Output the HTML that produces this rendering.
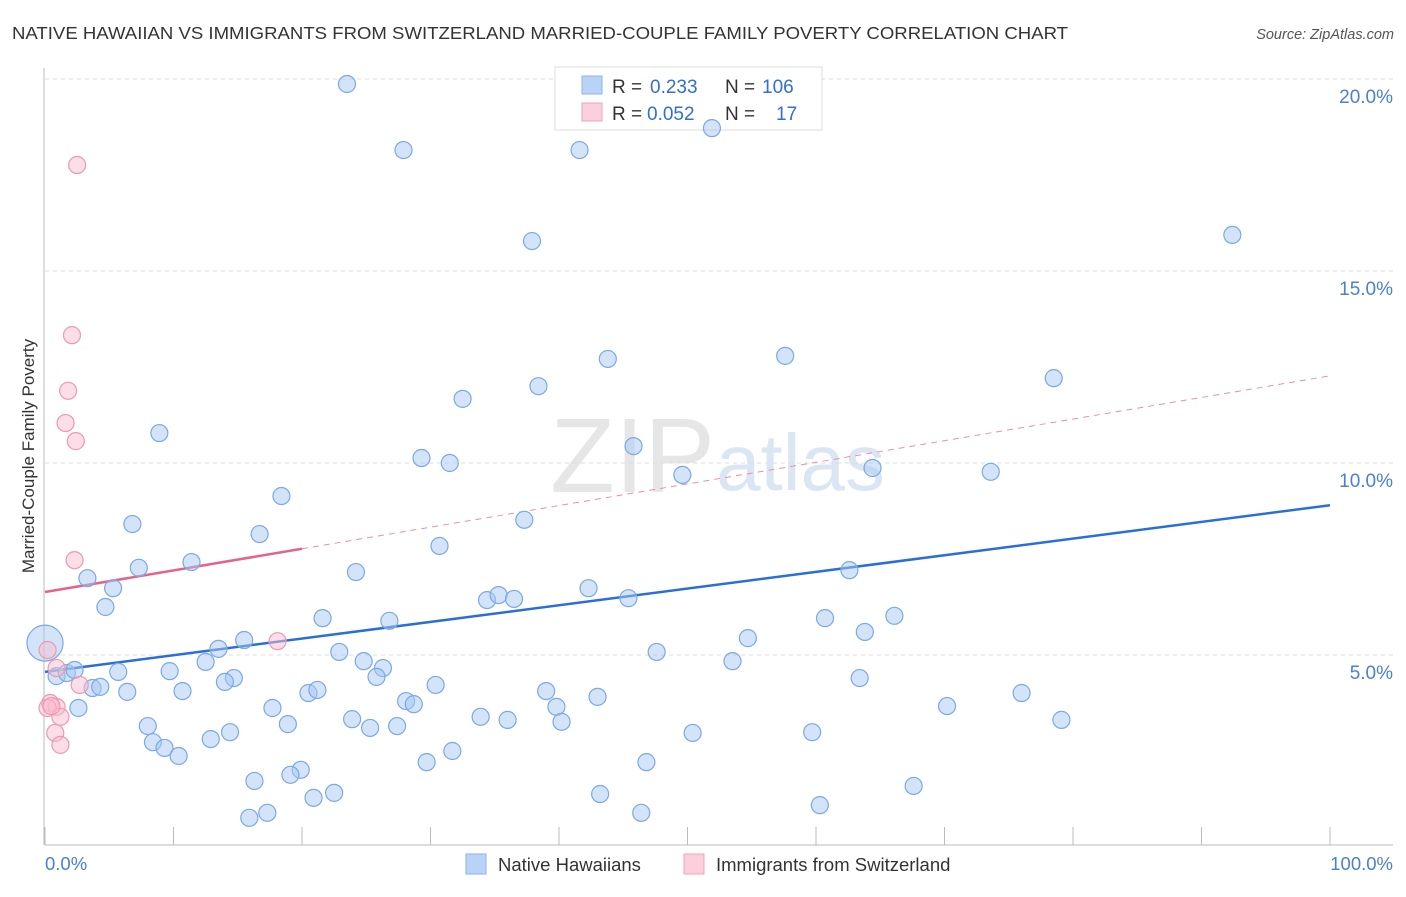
<!DOCTYPE html>
<html><head><meta charset="utf-8"><style>
body{margin:0;background:#fff;font-family:"Liberation Sans",sans-serif;}
svg text{font-family:"Liberation Sans",sans-serif;}
</style></head><body>
<svg id="chart" width="1406" height="892">
<text x="12" y="39" font-size="17.5" fill="#333" textLength="1056" lengthAdjust="spacingAndGlyphs">NATIVE HAWAIIAN VS IMMIGRANTS FROM SWITZERLAND MARRIED-COUPLE FAMILY POVERTY CORRELATION CHART</text>
<text x="1394" y="39" font-size="14.5" fill="#555" font-style="italic" text-anchor="end">Source: ZipAtlas.com</text>
<text x="715" y="492" font-size="106" fill="#e6e6e6" text-anchor="end" font-family="Liberation Serif">ZIP</text>
<text x="716" y="490" font-size="80" fill="#dbe6f5">atlas</text>
<g id="grid"></g><g id="axes"></g>
<g>
<rect x="555" y="67" width="267" height="63" fill="#fff" stroke="#ddd"/>
<rect x="582" y="76" width="20" height="18" fill="#b8d3f5" stroke="#8ab4ea"/>
<rect x="582" y="103" width="20" height="18" fill="#fbcfdc" stroke="#f0a3ba"/>
<text x="612" y="93" font-size="19" fill="#333">R =</text>
<text x="650" y="93" font-size="19" fill="#2f6fd6">0.233</text>
<text x="725" y="93" font-size="19" fill="#333">N =</text>
<text x="762" y="93" font-size="19" fill="#2f6fd6">106</text>
<text x="612" y="120" font-size="19" fill="#333">R =</text>
<text x="647" y="120" font-size="19" fill="#2f6fd6">0.052</text>
<text x="725" y="120" font-size="19" fill="#333">N =</text>
<text x="776" y="120" font-size="19" fill="#2f6fd6">17</text>
</g>
<g id="lines"></g><g id="pts"></g>
<text transform="translate(34,456) rotate(-90)" font-size="17" fill="#333" text-anchor="middle">Married-Couple Family Poverty</text>
<g>
<rect x="466" y="854" width="20" height="20" fill="#b8d3f5" stroke="#8ab4ea"/>
<text x="498" y="871" font-size="18.5" fill="#333">Native Hawaiians</text>
<rect x="684" y="854" width="20" height="20" fill="#fbcfdc" stroke="#f0a3ba"/>
<text x="716" y="871" font-size="18.5" fill="#333">Immigrants from Switzerland</text>
</g>
</svg>
<script>
const blueX=[23.5,27.9,41.6,51.9,37.9,92.4,43.8,57.6,78.5,38.4,32.5,8.9,45.8,29.3,31.5,49.6,64.4,73.6,18.4,6.8,37.3,16.7,30.7,11.4,7.3,24.2,3.3,5.3,42.3,62.6,4.7,34.4,35.3,36.5,45.4,21.6,26.8,60.7,66.1,63.8,15.5,13.5,54.7,22.9,47.6,24.8,26.3,12.5,53.5,0.9,1.7,2.3,5.7,9.7,14.7,14.0,25.8,63.4,3.7,4.3,6.4,10.7,20.5,21.2,30.4,39.0,28.1,28.7,43.0,76.0,2.6,17.7,39.8,70.2,23.9,33.9,36.0,40.2,79.1,8.0,18.9,25.3,27.4,14.4,12.9,50.4,59.7,8.4,9.3,10.4,31.7,29.7,46.8,19.9,19.1,16.3,22.5,20.9,43.2,67.6,60.3,17.3,15.9,46.4];
const blueY=[19.87,18.15,18.15,18.72,15.78,15.94,12.71,12.79,12.21,12.0,11.67,10.78,10.44,10.13,10.0,9.69,9.87,9.77,9.14,8.41,8.52,8.15,7.84,7.42,7.27,7.16,7.0,6.74,6.74,7.21,6.25,6.43,6.56,6.46,6.48,5.96,5.89,5.96,6.02,5.6,5.39,5.16,5.44,5.08,5.08,4.84,4.66,4.82,4.84,4.45,4.53,4.61,4.56,4.58,4.4,4.3,4.43,4.4,4.14,4.17,4.04,4.06,4.01,4.09,4.22,4.06,3.8,3.72,3.91,4.01,3.62,3.62,3.65,3.67,3.33,3.39,3.31,3.26,3.31,3.15,3.2,3.1,3.15,2.99,2.81,2.97,2.99,2.73,2.58,2.37,2.5,2.21,2.21,2.01,1.88,1.72,1.41,1.28,1.38,1.59,1.09,0.89,0.76,0.89];
const bigBlueX=[0];
const bigBlueY=[5.31];
const pinkX=[2.5,2.1,1.8,1.6,2.4,2.3,18.1,0.2,0.9,2.7,0.4,0.9,0.2,1.2,0.8,1.2,0.5];
const pinkY=[17.76,13.33,11.88,11.04,10.57,7.47,5.36,5.13,4.66,4.22,3.75,3.65,3.62,3.39,2.97,2.66,3.67];
const blueLine=[4.56,8.9];   // y at x=0 and x=100
const pinkLine=[6.64,12.27]; // y at x=0 and x=100
const pinkSolidEnd=20;
const yTicks=[5,10,15,20];
const xTickLabels=["0.0%","100.0%"];

const X=v=>45+v*12.85, Y=v=>847-v*38.4;
const ns="http://www.w3.org/2000/svg";
function mk(parent,tag,attrs){const e=document.createElementNS(ns,tag);for(const k in attrs)e.setAttribute(k,attrs[k]);document.getElementById(parent).appendChild(e);return e;}
yTicks.forEach(t=>{
  const l=mk('grid','line',{x1:45,x2:1393,y1:Y(t),y2:Y(t),stroke:'#ddd','stroke-dasharray':'4,4'});
  
  
  const tx=mk('grid','text',{x:1393,y:Y(t)+24,'font-size':19,fill:'#4a7fd4','text-anchor':'end'});
  tx.textContent=t.toFixed(1)+'%';
  
  
});
const ax=mk('axes','line',{x1:45,x2:1393,y1:845,y2:845,stroke:'#bbb'});


const ay=mk('axes','line',{x1:44,x2:44,y1:68,y2:845,stroke:'#bbb'});


for(let i=0;i<=10;i++){
  const t=mk('axes','line',{x1:X(i*10),x2:X(i*10),y1:827,y2:845,stroke:'#bbb'});
  
  
}
[[0,'start',45],[100,'end',1393]].forEach((d,i)=>{
  const t=mk('axes','text',{x:d[2],y:870,'font-size':18.5,fill:'#4a7fd4','text-anchor':d[1]});
  t.textContent=xTickLabels[i];
  
  
});
function pt(g,x,y,r,fill,stroke,name){
  const c=mk(g,'circle',{cx:X(x),cy:Y(y),r:r,fill:fill,stroke:stroke,'stroke-width':1.2});
  
  
}
blueX.forEach((x,i)=>pt('pts',x,blueY[i],8.5,'rgba(168,200,242,0.5)','#7aa9e6','native-hawaiian-point'));
bigBlueX.forEach((x,i)=>pt('pts',x,bigBlueY[i],18,'rgba(168,200,242,0.5)','#7aa9e6','native-hawaiian-point'));
pinkX.forEach((x,i)=>pt('pts',x,pinkY[i],8.5,'rgba(248,190,208,0.5)','#ee98b2','switzerland-point'));
const py=x=>pinkLine[0]+(pinkLine[1]-pinkLine[0])*x/100;
const bl=mk('lines','line',{x1:X(0),y1:Y(blueLine[0]),x2:X(100),y2:Y(blueLine[1]),stroke:'#2a6fd8','stroke-width':2.5});


const pd=mk('lines','line',{x1:X(pinkSolidEnd),y1:Y(py(pinkSolidEnd)),x2:X(100),y2:Y(pinkLine[1]),stroke:'#e890a8','stroke-width':1,'stroke-dasharray':'6,5'});


const ps=mk('lines','line',{x1:X(0),y1:Y(pinkLine[0]),x2:X(pinkSolidEnd),y2:Y(py(pinkSolidEnd)),stroke:'#e4628c','stroke-width':2.5});


</script>
</body></html>
